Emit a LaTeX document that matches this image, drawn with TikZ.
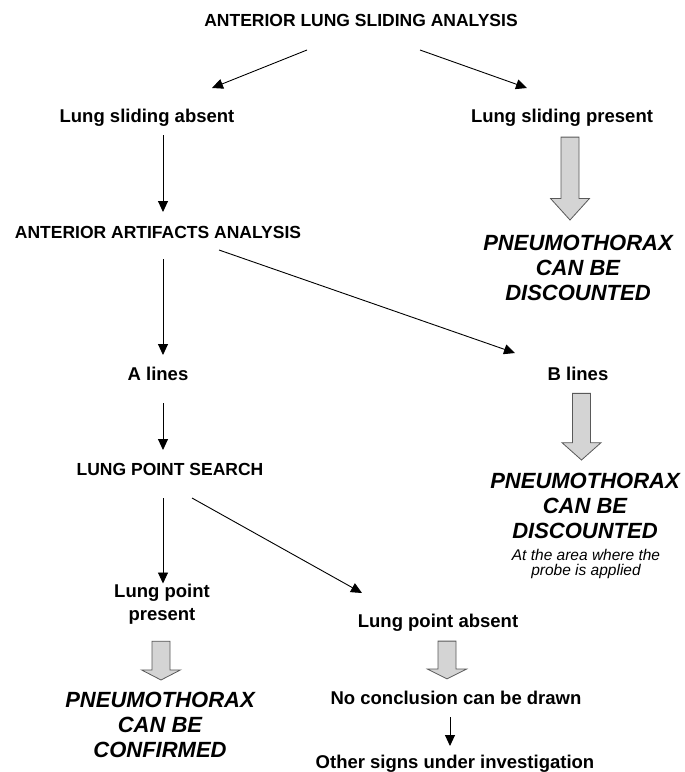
\documentclass[tikz,border=0pt]{standalone}
\usepackage{fontspec}
\setmainfont{Liberation Sans}
\usetikzlibrary{arrows.meta,calc}

\tikzset{
  lbl/.style={font=\bfseries\fontsize{18.5}{23}\selectfont, inner sep=0pt, anchor=base},
  caplbl/.style={lbl, font=\bfseries\fontsize{17.5}{21}\selectfont},
  twolines/.style={lbl, anchor=north, align=center},
  verdict/.style={font=\bfseries\itshape\fontsize{22}{25}\selectfont, inner sep=0pt, anchor=north, align=center},
  remark/.style={font=\itshape\fontsize{15.5}{15.5}\selectfont, inner sep=0pt, anchor=north, align=center},
  arr/.style={-{Triangle[length=11pt,width=10pt]}, line width=0.9pt},
  fatfill/.style={fill=black!17, draw=black!65, line width=0.8pt}
}

\newcommand{\fatarrow}[4]{%
  \path[fatfill] let \p1=(#1.south), \p2=(#2.north),
      \p3=({(\x1+\x2)/2},{\y1-#3pt}),
      \p4=(\x3,{\y2+#4pt}),
      \p5=(\x3,{\y4+0.26*(\y3-\y4)})
    in (\x3-9pt,\y3) -- (\x3+9pt,\y3) -- (\x3+9pt,\y5) -- (\x3+19.5pt,\y5)
       -- (\p4) -- (\x3-19.5pt,\y5) -- (\x3-9pt,\y5) -- cycle;}

\begin{document}
\begin{tikzpicture}[x=1pt,y=-1pt]
        \fill[white] (0,0) rectangle (685,772);
        \useasboundingbox (0,0) rectangle (685,772);
        \coordinate (lcol) at (163,0);
        \coordinate (mcol) at (450,0);

        \node[caplbl] (title) at (361,26) {ANTERIOR LUNG SLIDING ANALYSIS};
        \node[lbl] (lsa) at (147,122) {Lung sliding absent};
        \node[lbl] (lsp) at (562,122) {Lung sliding present};
        \node[caplbl] (aaa) at (158,238) {ANTERIOR ARTIFACTS ANALYSIS};
        \node[verdict] (disc1) at (578,235) {PNEUMOTHORAX\\CAN BE\\DISCOUNTED};
        \node[lbl] (alines) at (158,380) {A lines};
        \node[lbl] (blines) at (578,380) {B lines};
        \node[caplbl] (lps) at (170,475) {LUNG POINT SEARCH};
        \node[verdict] (disc2) at (585,473) {PNEUMOTHORAX\\CAN BE\\DISCOUNTED};
        \node[remark] (area) at (586,549) {At the area where the\\probe is applied};
        \node[twolines] (lpp) at (162,583.5) {Lung point\\present};
        \node[lbl] (lpa) at (438,627) {Lung point absent};
        \node[verdict] (conf) at (160,692) {PNEUMOTHORAX\\CAN BE\\CONFIRMED};
        \node[lbl] (nocon) at (456,704) {No conclusion can be drawn};
        \node[lbl] (other) at (455,768) {Other signs under investigation};

        \draw[arr] ($(title.base)+(-54,24)$) -- ($(lsa.base)+(65,-34)$);
        \draw[arr] ($(title.base)+(59,24)$) -- ($(lsp.base)+(-35,-34)$);
        \draw[arr, shorten <=13pt, shorten >=26pt] (lsa.base -| lcol) -- (aaa.base -| lcol);
        \draw[arr, shorten <=21pt, shorten >=25pt] (aaa.base -| lcol) -- (alines.base -| lcol);
        \draw[arr] ($(aaa.base)+(61,12)$) -- ($(blines.base)+(-63,-27)$);
        \draw[arr, shorten <=23pt, shorten >=25pt] (alines.base -| lcol) -- (lps.base -| lcol);
        \draw[arr, shorten <=23pt] (lps.base -| lcol) -- (lpp.north -| lcol);
        \draw[arr] ($(lps.base)+(22,23)$) -- ($(lpa.base)+(-76,-34)$);
        \draw[arr, shorten <=13pt, shorten >=22pt] (nocon.base -| mcol) -- (other.base -| mcol);

        \fatarrow{lsp}{disc1}{11}{15}
        \fatarrow{blines}{disc2}{13}{13}
        \fatarrow{lpp}{conf}{17}{12}
        \fatarrow{lpa}{nocon}{10}{11.5}
    \end{tikzpicture}
\end{document}
